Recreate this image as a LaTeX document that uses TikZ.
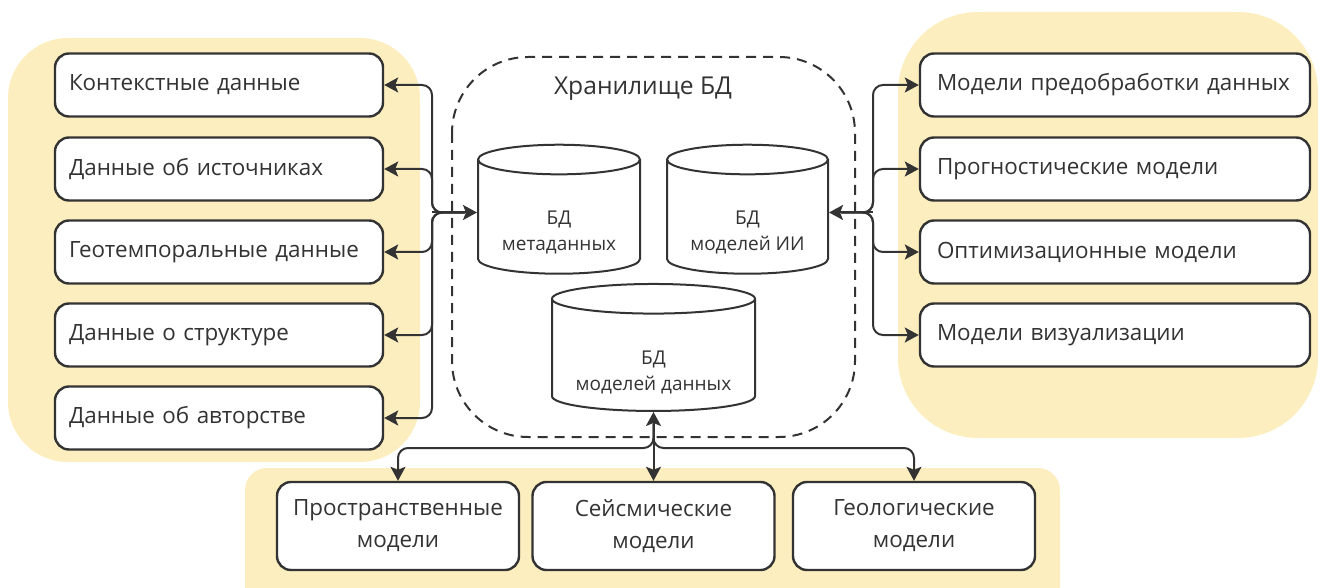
\documentclass[tikz,border=0pt]{standalone}
\usepackage{fontspec}
\setmainfont{Open Sans}
\usetikzlibrary{shapes.geometric,arrows.meta,positioning,calc}
\definecolor{sand}{HTML}{FCEEBF}
\definecolor{ink}{HTML}{333333}

\begin{document}
\begin{tikzpicture}[
  x = 0.5pt, y = -0.5pt,
  > = {Stealth[length = 7pt, width = 7.5pt, inset = 1.5pt]},
  box/.style = {
    draw = ink,
    fill = white,
    rounded corners = 7pt,
    line width = 1.2pt,
    text = ink,
    font = \fontsize{11.2}{16}\selectfont
  },
  item/.style = {
    box,
    minimum height = 31.5pt,
    inner xsep = 7pt,
    align = left
  },
  model/.style = {
    box,
    minimum width = 121pt,
    minimum height = 44pt,
    align = center
  },
  db/.style = {
    cylinder,
    shape border rotate = 90,
    aspect = 0.2,
    inner xsep = 37pt,
    inner ysep = 0pt,
    draw = ink,
    fill = white,
    line width = 1pt
  },
  dbtext/.style = {
    text = ink,
    align = center,
    yshift = -4pt,
    font = \fontsize{9.5}{13}\selectfont
  },
  link/.style = {
    draw = ink,
    line width = 1pt,
    rounded corners = 5pt
  }
]
  \useasboundingbox (0, 0) rectangle (1327, 588);

  % backgrounds
  \fill[sand, rounded corners = 30pt] (8, 38) rectangle (420, 462);
  \fill[sand, rounded corners = 40pt] (898, 12) rectangle (1318, 438);
  \fill[sand, rounded corners = 11pt] (245, 468) rectangle (1060, 640);

  % storage
  \draw[ink, line width = 1pt, dash pattern = on 5pt off 3.5pt, rounded corners = 38pt]
    (452, 57) rectangle (855, 437);
  \node[text = ink, font = \fontsize{12.3}{15}\selectfont] (title) at (643, 89) {Хранилище БД};

  \node[db, minimum width = 81pt, minimum height = 64.5pt,
    label = {[dbtext]center:БД\\метаданных}] (meta) at (559, 224.5) {};
  \node[db, minimum width = 80.5pt, minimum height = 64.5pt,
    label = {[dbtext]center:БД\\моделей ИИ}] (ai) at (747.5, 224.5) {};
  \node[db, minimum width = 101.5pt, minimum height = 63.5pt,
    label = {[dbtext, yshift = -1pt]center:БД\\моделей данных}] (dm) at (653.5, 362.5) {};

  % left side
  \node[item, text width = 150pt] (ctx) at (219, 85) {Контекстные данные};
  \node[item, text width = 150pt] (src) at (219, 169) {Данные об источниках};
  \node[item, text width = 150pt] (geo) at (219, 252) {Геотемпоральные данные};
  \node[item, text width = 150pt] (str) at (219, 335) {Данные о структуре};
  \node[item, text width = 150pt] (auth) at (219, 418) {Данные об авторстве};

  % right side
  \node[item, inner xsep = 8.5pt, text width = 178pt] (prep) at (1115, 85) {Модели предобработки данных};
  \node[item, inner xsep = 8.5pt, text width = 178pt] (pred) at (1115, 169) {Прогностические модели};
  \node[item, inner xsep = 8.5pt, text width = 178pt] (opt) at (1115, 252) {Оптимизационные модели};
  \node[item, inner xsep = 8.5pt, text width = 178pt] (vis) at (1115, 335) {Модели визуализации};

  % bottom
  \node[model] (spat) at (398, 526) {Пространственные\\модели};
  \node[model] (seis) at (653.5, 526) {Сейсмические\\модели};
  \node[model] (geol) at (914, 526) {Геологические\\модели};

  \coordinate (hubL) at (432, 212.5);
  \coordinate (hubR) at (873, 212.5);
  \coordinate (hubB) at (653.5, 448);
  \coordinate (inL) at (meta.west |- hubL);
  \coordinate (inR) at (ai.east |- hubR);

  \draw[link, ->] (hubL) -- (inL);
  \foreach \n in {ctx, src, geo, str, auth}
    \draw[link, ->, shorten <= 6pt] (inL) -- (hubL) |- (\n.east);

  \draw[link, ->] (hubR) -- (inR);
  \foreach \n in {prep, pred, opt, vis}
    \draw[link, ->, shorten <= 6pt] (inR) -- (hubR) |- (\n.west);

  \draw[link, <->] (dm.south) -- (seis.north);
  \foreach \n in {spat, geol}
    \draw[link, ->, shorten <= 6pt] (dm.south) -- (hubB) -| (\n.north);
\end{tikzpicture}
\end{document}
